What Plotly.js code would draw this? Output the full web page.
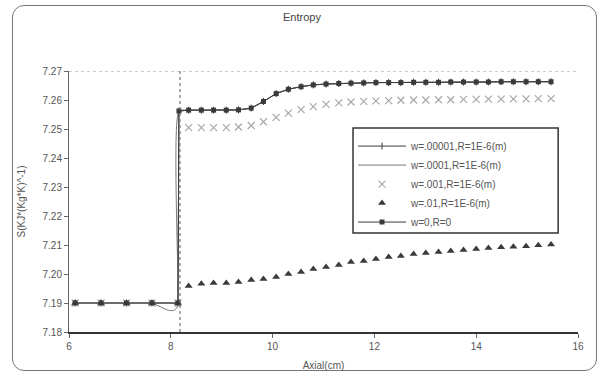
<!DOCTYPE html>
<html>
<head>
<meta charset="utf-8">
<script src="https://cdn.plot.ly/plotly-3.0.1.min.js"></script>
<style>
  html, body { margin:0; padding:0; background:#fff; }
  #wrap { position:relative; width:604px; height:377px; }
  #frame { position:absolute; left:12px; top:5px; width:585px; height:366px;
           border:1.5px solid #777; border-radius:12px; box-sizing:border-box; }
  #chart { position:absolute; left:0; top:0; width:604px; height:377px; }
</style>
</head>
<body>
<div id="wrap"><div id="frame"></div><div id="chart"></div></div>
<script>
// ---- data ----
const xLeft = [6.12, 6.63, 7.13, 7.63, 8.14];
const sLeft = [7.19, 7.19, 7.19, 7.19, 7.19];

const xJump = [8.16];

const xRight = [8.35, 8.6, 8.84, 9.09, 9.33, 9.58, 9.82, 10.07, 10.31, 10.56,
                10.8, 11.05, 11.3, 11.54, 11.79, 12.03, 12.28, 12.52, 12.77, 13.01,
                13.26, 13.5, 13.75, 14.0, 14.24, 14.49, 14.73, 14.98, 15.22, 15.47];

// w=0,R=0 (and the overlapping w=.00001 / w=.0001 curves)
const sJumpTop = [7.2562];
const sTop = [7.2565, 7.2565, 7.2565, 7.2565, 7.2566, 7.2572, 7.2595, 7.2622, 7.2637, 7.2646,
              7.2652, 7.2655, 7.2657, 7.2658, 7.2659, 7.2660, 7.2660, 7.2660, 7.2661, 7.2661,
              7.2661, 7.2662, 7.2662, 7.2662, 7.2662, 7.2663, 7.2663, 7.2663, 7.2663, 7.2663];

// dip of the smoothed curve just before the jump (w=.0001)
const xDip = [7.63, 7.82, 7.95, 8.05, 8.11, 8.14];
const sDip = [7.19, 7.1885, 7.1875, 7.1874, 7.1881, 7.19];

// w=.001
const sX = [7.2505, 7.2505, 7.2505, 7.2505, 7.2507, 7.2512, 7.2525, 7.2540, 7.2555, 7.2567,
            7.2577, 7.2585, 7.2590, 7.2593, 7.2595, 7.2597, 7.2598, 7.2599, 7.2600, 7.2600,
            7.2601, 7.2601, 7.2602, 7.2602, 7.2603, 7.2603, 7.2604, 7.2604, 7.2605, 7.2605];

// w=.01
const sTri = [7.1959, 7.1966, 7.1969, 7.1969, 7.1972, 7.1979, 7.1983, 7.1990, 7.2000, 7.2007,
              7.2017, 7.2024, 7.2031, 7.2041, 7.2045, 7.2052, 7.2059, 7.2062, 7.2069, 7.2072,
              7.2076, 7.2079, 7.2083, 7.2086, 7.2090, 7.2092, 7.2094, 7.2096, 7.2099, 7.2102];

const seriesNames = ['w=.00001,R=1E-6(m)', 'w=.0001,R=1E-6(m)', 'w=.001,R=1E-6(m)',
                     'w=.01,R=1E-6(m)', 'w=0,R=0'];
const jumpLine = [8.18];

const dark = '#3a3a3a';
const light = '#a8a8a8';
const txt = '#555';

const xFull = xLeft.concat(xJump, xRight);
const yFull = sLeft.concat(sJumpTop, sTop);
const xRightFull = xJump.concat(xRight);

const traces = [
  { name: seriesNames[0], x: xFull, y: yFull, mode: 'lines+markers',
    line: {color: dark, width: 1}, marker: {symbol: 'line-ns', size: 5, color: dark, line: {color: dark, width: 1}} },
  { name: seriesNames[1], x: xDip.concat(xRightFull), y: sDip.concat(sJumpTop, sTop), mode: 'lines',
    line: {color: '#777', width: 1, shape: 'spline', smoothing: 0.6} },
  { name: seriesNames[2], x: xLeft.concat(xRight), y: sLeft.concat(sX), mode: 'markers',
    marker: {symbol: 'x-thin', size: 7, color: light, line: {color: light, width: 1.2}} },
  { name: seriesNames[3], x: xLeft.concat(xRight), y: sLeft.concat(sTri), mode: 'markers',
    marker: {symbol: 'triangle-up', size: 7, color: dark} },
  { name: seriesNames[4], x: xFull, y: yFull, mode: 'lines+markers',
    line: {color: dark, width: 1}, marker: {symbol: 'square', size: 5, color: dark} }
];

const layout = {
  width: 604, height: 377,
  margin: {l: 69, r: 26, t: 71, b: 45},
  paper_bgcolor: 'rgba(0,0,0,0)', plot_bgcolor: 'rgba(0,0,0,0)',
  font: {family: 'Liberation Sans, Arial, sans-serif', size: 10, color: txt},
  title: {text: 'Entropy', font: {size: 11, color: '#444'}, x: 0.5, xref: 'container',
          y: 0.955, yref: 'container', yanchor: 'middle'},
  xaxis: {range: [6, 16], dtick: 2, tick0: 6, showgrid: false, zeroline: false,
          showline: true, linecolor: '#333', linewidth: 1.5, ticks: 'outside', ticklen: 4,
          tickcolor: '#666', tickfont: {size: 10, color: txt},
          title: {text: 'Axial(cm)', font: {size: 10, color: txt}, standoff: 11}},
  yaxis: {range: [7.18, 7.27], dtick: 0.01, tick0: 7.18, tickformat: '.2f', showgrid: false, zeroline: false,
          showline: true, linecolor: '#666', linewidth: 1, ticks: 'outside', ticklen: 4,
          tickcolor: '#666', tickfont: {size: 10, color: txt},
          title: {text: 'S(KJ*(Kg*K)^-1)', font: {size: 10, color: txt}, standoff: 15}},
  showlegend: true,
  legend: {x: 0.558, y: 0.768, xanchor: 'left', yanchor: 'top', bgcolor: 'rgba(255,255,255,0)',
           borderwidth: 0, font: {size: 10, color: txt}, itemwidth: 48, traceorder: 'normal'},
  shapes: [
    {type: 'line', xref: 'paper', x0: 0, x1: 1, yref: 'y', y0: 7.27, y1: 7.27,
     line: {color: '#999', width: 1, dash: 'dot'}},
    {type: 'line', xref: 'x', x0: jumpLine[0], x1: jumpLine[0], yref: 'paper', y0: 0, y1: 1,
     line: {color: '#777', width: 1.2, dash: 'dot'}},
    {type: 'rect', xref: 'paper', yref: 'paper', x0: 0.558, x1: 0.961, y0: 0.379, y1: 0.782,
     line: {color: '#333', width: 1.5}, fillcolor: 'rgba(0,0,0,0)'}
  ]
};

Plotly.newPlot('chart', traces, layout, {staticPlot: true, displayModeBar: false});
</script>
</body>
</html>
